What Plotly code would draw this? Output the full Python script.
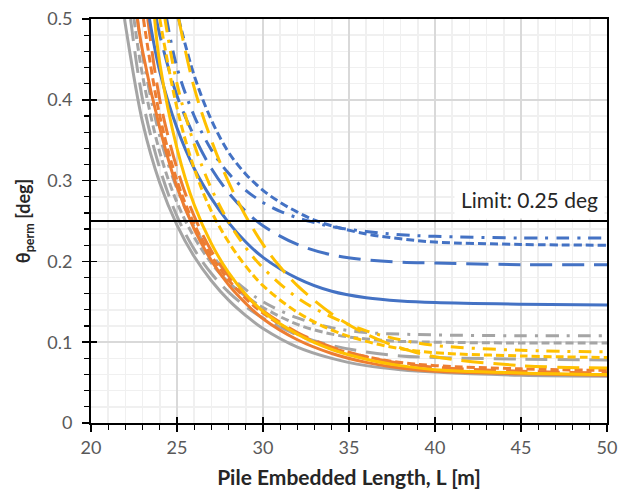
import plotly.graph_objects as go

# ---------------- data ----------------
L_blue_solid = [23.4, 24, 25, 26, 27, 28, 29, 30, 32, 34, 36, 38, 40, 45, 50]
v_blue_solid = [0.5, 0.435, 0.365, 0.315, 0.278, 0.248, 0.224, 0.205, 0.179, 0.163, 0.155, 0.151, 0.149, 0.147, 0.146]

L_blue_long = [23.8, 24, 25, 26, 27, 28, 29, 30, 32, 34, 36, 38, 40, 45, 50]
v_blue_long = [0.5, 0.48, 0.405, 0.355, 0.315, 0.285, 0.262, 0.244, 0.221, 0.208, 0.202, 0.199, 0.198, 0.196, 0.196]

L_blue_dash = [25.1, 26, 27, 28, 29, 30, 31, 32, 33, 34, 36, 38, 40, 45, 50]
v_blue_dash = [0.5, 0.43, 0.375, 0.335, 0.308, 0.288, 0.273, 0.261, 0.251, 0.244, 0.234, 0.228, 0.224, 0.221, 0.220]

L_blue_dashdot = [24.4, 25, 26, 27, 28, 29, 30, 31, 32, 33, 34, 36, 38, 40, 45, 50]
v_blue_dashdot = [0.5, 0.44, 0.38, 0.338, 0.309, 0.288, 0.273, 0.262, 0.254, 0.248, 0.243, 0.237, 0.233, 0.231, 0.229, 0.229]

L_orange_solid = [22.7, 23, 24, 25, 26, 27, 28, 29, 30, 32, 34, 36, 38, 40, 45, 50]
v_orange_solid = [0.5, 0.46, 0.365, 0.292, 0.24, 0.201, 0.171, 0.148, 0.129, 0.103, 0.086, 0.075, 0.068, 0.064, 0.061, 0.059]

L_orange_dash = [23.05, 24, 25, 26, 27, 28, 29, 30, 32, 34, 36, 38, 40, 45, 50]
v_orange_dash = [0.5, 0.38, 0.3, 0.246, 0.207, 0.177, 0.154, 0.136, 0.110, 0.093, 0.082, 0.075, 0.071, 0.067, 0.065]

L_orange_long = [23.3, 24, 25, 26, 27, 28, 29, 30, 32, 34, 36, 38, 40, 45, 50]
v_orange_long = [0.5, 0.4, 0.315, 0.256, 0.213, 0.182, 0.158, 0.139, 0.112, 0.094, 0.082, 0.074, 0.069, 0.064, 0.062]

L_gray_solid = [21.95, 22, 23, 24, 25, 26, 27, 28, 29, 30, 32, 34, 36, 38, 40, 45, 50]
v_gray_solid = [0.5, 0.493, 0.372, 0.297, 0.245, 0.206, 0.176, 0.152, 0.133, 0.117, 0.094, 0.080, 0.071, 0.066, 0.063, 0.059, 0.058]

L_gray_long = [22.3, 23, 24, 25, 26, 27, 28, 29, 30, 32, 34, 36, 38, 40, 45, 50]
v_gray_long = [0.5, 0.4, 0.315, 0.256, 0.215, 0.185, 0.162, 0.144, 0.130, 0.109, 0.096, 0.088, 0.083, 0.081, 0.079, 0.078]

L_gray_dash = [22.5, 23, 24, 25, 26, 27, 28, 29, 30, 32, 34, 36, 38, 40, 45, 50]
v_gray_dash = [0.5, 0.43, 0.335, 0.273, 0.23, 0.198, 0.174, 0.157, 0.143, 0.122, 0.110, 0.104, 0.101, 0.100, 0.099, 0.099]

L_gray_dashdot = [22.7, 23, 24, 25, 26, 27, 28, 29, 30, 32, 34, 36, 38, 40, 45, 50]
v_gray_dashdot = [0.5, 0.455, 0.355, 0.29, 0.243, 0.209, 0.184, 0.165, 0.150, 0.130, 0.118, 0.112, 0.110, 0.109, 0.108, 0.108]

L_gold_solid = [23.7, 24, 25, 26, 27, 28, 29, 30, 32, 34, 36, 38, 40, 45, 50]
v_gold_solid = [0.5, 0.445, 0.34, 0.27, 0.222, 0.186, 0.159, 0.138, 0.110, 0.091, 0.079, 0.071, 0.066, 0.062, 0.060]

L_gold_dash = [24.0, 25, 26, 27, 28, 29, 30, 32, 34, 36, 38, 40, 45, 50]
v_gold_dash = [0.5, 0.39, 0.315, 0.262, 0.224, 0.194, 0.170, 0.137, 0.115, 0.101, 0.092, 0.087, 0.083, 0.081]

L_gold_dashdot = [24.3, 25, 26, 27, 28, 29, 30, 32, 34, 36, 38, 40, 45, 50]
v_gold_dashdot = [0.5, 0.42, 0.345, 0.29, 0.249, 0.217, 0.192, 0.155, 0.131, 0.114, 0.103, 0.096, 0.090, 0.088]

L_gold_long = [25.1, 26, 27, 28, 29, 30, 31, 32, 34, 36, 38, 40, 45, 50]
v_gold_long = [0.5, 0.415, 0.35, 0.298, 0.256, 0.221, 0.193, 0.17, 0.135, 0.11, 0.093, 0.082, 0.071, 0.068]

limit_value = 0.25
limit_label = "Limit: 0.25 deg"

# ---------------- styles ----------------
BLUE, ORANGE, GRAY, GOLD = "#4472C4", "#ED7D31", "#A5A5A5", "#FFC000"
SOLID = "solid"
SHORT = "8px,4px"
LONG = "22px,10px"
DASHDOT = "13px,8px,3px,8px"

series = [
    (L_gray_solid, v_gray_solid, GRAY, SOLID),
    (L_gray_long, v_gray_long, GRAY, LONG),
    (L_gray_dash, v_gray_dash, GRAY, SHORT),
    (L_gray_dashdot, v_gray_dashdot, GRAY, DASHDOT),
    (L_orange_solid, v_orange_solid, ORANGE, SOLID),
    (L_orange_long, v_orange_long, ORANGE, LONG),
    (L_orange_dash, v_orange_dash, ORANGE, SHORT),
    (L_blue_solid, v_blue_solid, BLUE, SOLID),
    (L_blue_long, v_blue_long, BLUE, LONG),
    (L_blue_dash, v_blue_dash, BLUE, SHORT),
    (L_blue_dashdot, v_blue_dashdot, BLUE, DASHDOT),
    (L_gold_solid, v_gold_solid, GOLD, SOLID),
    (L_gold_long, v_gold_long, GOLD, LONG),
    (L_gold_dash, v_gold_dash, GOLD, SHORT),
    (L_gold_dashdot, v_gold_dashdot, GOLD, DASHDOT),
]

fig = go.Figure()
for xs, ys, col, dash in series:
    fig.add_trace(go.Scatter(x=xs, y=ys, mode="lines",
                             line=dict(color=col, width=3, dash=dash, shape="spline", smoothing=1.0),
                             hoverinfo="skip", showlegend=False))

# limit line
fig.add_trace(go.Scatter(x=[20, 50], y=[limit_value, limit_value], mode="lines",
                         line=dict(color="black", width=2), hoverinfo="skip", showlegend=False))

# dummy trace for overlay axes (inside major ticks)
fig.add_trace(go.Scatter(x=[None], y=[None], xaxis="x2", yaxis="y2", showlegend=False))

FONT = "Lato, 'Open Sans', sans-serif"
fig.update_layout(
    width=620, height=496,
    margin=dict(l=91, r=13, t=19, b=73),
    paper_bgcolor="white", plot_bgcolor="white",
    font=dict(family=FONT, color="#595959", size=18),
    showlegend=False,
    xaxis=dict(range=[20, 50], dtick=5, tick0=20, showgrid=True, gridcolor="#D9D9D9", gridwidth=1.5,
               showline=True, linecolor="black", linewidth=2, mirror=True, automargin=False,
               ticks="outside", ticklen=7, tickwidth=1.5, tickcolor="black",
               tickfont=dict(size=18, color="#595959"), ticklabeloverflow="allow",
               minor=dict(dtick=1, showgrid=True, gridcolor="#F0F0F0", gridwidth=1.5,
                          ticks="outside", ticklen=5, tickcolor="black", tickwidth=1.2),
               zeroline=False,
               title=dict(text="<b>Pile Embedded Length, L [m]</b>", font=dict(size=21, color="#262626"),
                          standoff=14)),
    yaxis=dict(range=[0, 0.5], dtick=0.1, tick0=0, showgrid=True, gridcolor="#D9D9D9", gridwidth=1.5,
               showline=True, linecolor="black", linewidth=2, mirror=True, automargin=False,
               ticks="outside", ticklen=7, tickwidth=1.5, tickcolor="black",
               tickfont=dict(size=18, color="#595959"), ticklabelstandoff=6, ticklabeloverflow="allow",
               minor=dict(dtick=0.02, showgrid=True, gridcolor="#F0F0F0", gridwidth=1.5,
                          ticks="outside", ticklen=5, tickcolor="black", tickwidth=1.2),
               zeroline=False,
               title=dict(text="<b>θ<sub>perm</sub> [deg]</b>", font=dict(size=18, color="#262626"),
                          standoff=12)),
    xaxis2=dict(range=[20, 50], dtick=5, tick0=20, overlaying="x", anchor="y", side="bottom",
                ticks="inside", ticklen=6, tickwidth=1.5, tickcolor="black", automargin=False,
                showticklabels=False, showgrid=False, showline=False, zeroline=False),
    yaxis2=dict(range=[0, 0.5], dtick=0.1, tick0=0, overlaying="y", anchor="x", side="left",
                ticks="inside", ticklen=6, tickwidth=1.5, tickcolor="black", automargin=False,
                showticklabels=False, showgrid=False, showline=False, zeroline=False),
    annotations=[dict(x=1, xref="x domain", y=limit_value, yref="y", xanchor="right", yanchor="bottom",
                      text=limit_label, showarrow=False, bgcolor="white", borderpad=6,
                      xshift=-2, yshift=2, font=dict(size=21, color="#262626", family=FONT))],
)

# remove the default page margin so the 620x496 figure fills the window exactly
fig.write_html("out.html", config={"displayModeBar": False, "staticPlot": True},
               post_script="document.body.style.margin='0px';document.body.style.overflow='hidden';")
